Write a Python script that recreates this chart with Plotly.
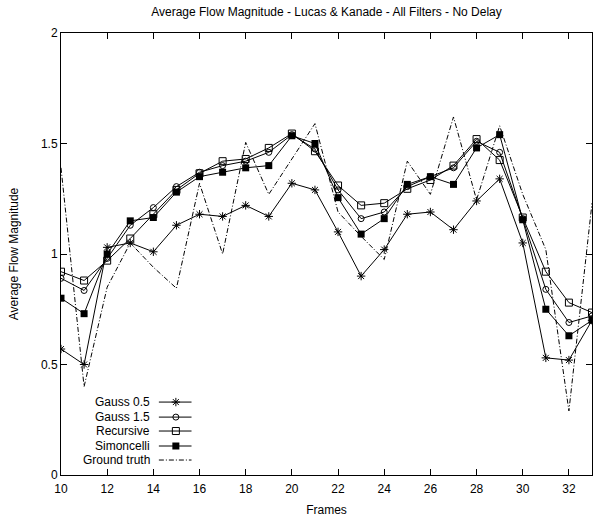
import plotly.graph_objects as go

frames = list(range(10, 34))

gauss_05 = [0.57, 0.50, 1.03, 1.05, 1.01, 1.13, 1.18, 1.17, 1.22, 1.17, 1.32, 1.29,
            1.10, 0.90, 1.02, 1.18, 1.19, 1.11, 1.24, 1.34, 1.05, 0.53, 0.52, 0.70]
gauss_15 = [0.89, 0.835, 0.98, 1.13, 1.21, 1.305, 1.37, 1.40, 1.42, 1.46, 1.54, 1.475,
            1.29, 1.16, 1.19, 1.305, 1.35, 1.39, 1.51, 1.46, 1.16, 0.84, 0.69, 0.72]
recursive = [0.92, 0.88, 0.97, 1.07, 1.18, 1.29, 1.365, 1.42, 1.43, 1.48, 1.545, 1.465,
             1.31, 1.22, 1.23, 1.295, 1.335, 1.40, 1.52, 1.425, 1.165, 0.92, 0.78, 0.735]
simoncelli = [0.80, 0.73, 1.00, 1.15, 1.165, 1.28, 1.35, 1.37, 1.39, 1.40, 1.535, 1.50,
              1.255, 1.09, 1.16, 1.315, 1.35, 1.315, 1.48, 1.54, 1.155, 0.75, 0.63, 0.70]
ground_truth = [1.39, 0.40, 0.85, 1.05, 0.94, 0.845, 1.32, 1.00, 1.505, 1.27, 1.43, 1.59,
                1.19, 1.08, 0.975, 1.42, 1.27, 1.62, 1.245, 1.58, 1.27, 1.02, 0.29, 1.23]

x_ticks = list(range(10, 33, 2))
y_ticks = [0, 0.5, 1, 1.5, 2]

FONT = "Liberation Sans, Arial, Helvetica, sans-serif"
INK = "black"
GT_DASH = "5px,2px,1px,2px"

series = [
    ("Gauss 0.5", gauss_05, dict(symbol="asterisk-open", size=7, color=INK, line=dict(color=INK, width=1))),
    ("Gauss 1.5", gauss_15, dict(symbol="circle-open", size=6, color=INK, line=dict(color=INK, width=1))),
    ("Recursive", recursive, dict(symbol="square-open", size=7, color=INK, line=dict(color=INK, width=1))),
    ("Simoncelli", simoncelli, dict(symbol="square", size=7, color=INK, line=dict(color=INK, width=0))),
]

fig = go.Figure()

for name, vals, marker in series:
    fig.add_trace(go.Scatter(
        x=frames, y=vals, mode="lines+markers", name=name,
        line=dict(color=INK, width=1), marker=marker, showlegend=False,
    ))

fig.add_trace(go.Scatter(
    x=frames, y=ground_truth, mode="lines", name="Ground truth",
    line=dict(color=INK, width=1, dash=GT_DASH), showlegend=False,
))

# Key: label on the left, sample line with marker on the right (overlay axes in 0..1 units)
key_names = [s[0] for s in series] + ["Ground truth"]
key_y = [0.165, 0.131, 0.0995, 0.0656, 0.0339]
key_text_x = 0.1706
key_line_x = [0.1843, 0.2458]
key_mark_x = 0.2163

for i, name in enumerate(key_names):
    yk = key_y[i]
    if i < len(series):
        marker = series[i][2]
        fig.add_trace(go.Scatter(
            x=key_line_x, y=[yk, yk], mode="lines", xaxis="x2", yaxis="y2",
            line=dict(color=INK, width=1), showlegend=False, hoverinfo="skip",
        ))
        fig.add_trace(go.Scatter(
            x=[key_mark_x], y=[yk], mode="markers", xaxis="x2", yaxis="y2",
            marker=marker, showlegend=False, hoverinfo="skip",
        ))
    else:
        fig.add_trace(go.Scatter(
            x=key_line_x, y=[yk, yk], mode="lines", xaxis="x2", yaxis="y2",
            line=dict(color=INK, width=1, dash=GT_DASH), showlegend=False, hoverinfo="skip",
        ))
    fig.add_annotation(
        x=key_text_x, y=yk, xref="x2", yref="y2", text=name, showarrow=False,
        xanchor="right", yanchor="middle", font=dict(family=FONT, size=12, color=INK),
    )

axis_common = dict(
    showline=True, linecolor=INK, linewidth=1, mirror="allticks",
    ticks="inside", ticklen=6, tickcolor=INK, tickwidth=1,
    showgrid=False, zeroline=False,
    tickfont=dict(family=FONT, size=12, color=INK),
)

fig.update_layout(
    width=597, height=522,
    margin=dict(l=61, r=5, t=33, b=47),
    paper_bgcolor="white", plot_bgcolor="white",
    title=dict(
        text="Average Flow Magnitude - Lucas & Kanade - All Filters - No Delay",
        x=(61 + (597 - 5)) / 2 / 597, xanchor="center", y=1 - 12 / 522, yanchor="middle",
        font=dict(family=FONT, size=12, color=INK),
    ),
    xaxis=dict(
        range=[10, 33], tickvals=x_ticks, ticktext=[str(v) for v in x_ticks],
        ticklabelstandoff=3,
        title=dict(text="Frames", font=dict(family=FONT, size=12, color=INK), standoff=10),
        **axis_common,
    ),
    yaxis=dict(
        range=[0, 2], tickvals=y_ticks, ticktext=["0", "0.5", "1", "1.5", "2"],
        title=dict(text="Average Flow Magnitude", font=dict(family=FONT, size=12, color=INK), standoff=19),
        **axis_common,
    ),
    xaxis2=dict(range=[0, 1], overlaying="x", visible=False, fixedrange=True),
    yaxis2=dict(range=[0, 1], overlaying="y", visible=False, fixedrange=True),
    showlegend=False,
)

fig.write_html("out.html")
